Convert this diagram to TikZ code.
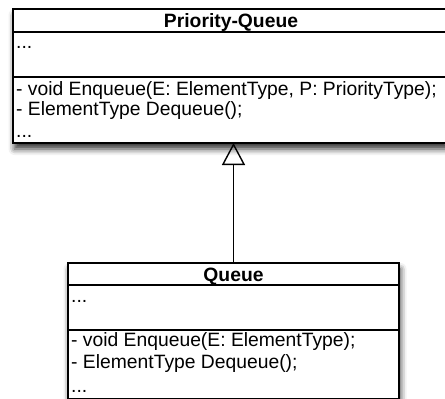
\documentclass[tikz,border=0pt]{standalone}
\usepackage{fontspec}
\setmainfont{Liberation Sans}
\usetikzlibrary{shadows.blur,arrows.meta}
\begin{document}
\begin{tikzpicture}[x=1pt,y=-1pt,
  box/.style={draw=black, line width=1.6pt, fill=white, anchor=north west, inner sep=0pt, outer sep=0pt},
  frame/.style={fill=white, anchor=north west, inner sep=0pt, outer sep=0pt,
     blur shadow={shadow xshift=1.5pt, shadow yshift=-6pt, shadow blur radius=6pt, shadow opacity=80}},
  txt/.style={anchor=base west, inner sep=0pt, font=\fontsize{19.3}{20}\selectfont},
  ttl/.style={anchor=base, inner sep=0pt, font=\fontsize{19.3}{20}\selectfont\bfseries},
  inherit/.style={line width=1.5pt, -{Triangle[open, length=22pt, width=23pt, line width=1.4pt]}}]
\useasboundingbox (0,0) rectangle (445,399);
% Priority-Queue class
\node[frame, minimum width=434pt, minimum height=134pt] (pqframe) at (13,9) {};
\node[box, minimum width=434pt, minimum height=23pt] (pqhead) at (13,9) {};
\node[box, minimum width=434pt, minimum height=45pt] (pqattr) at (13,32) {};
\node[box, minimum width=434pt, minimum height=66pt] (pqmeth) at (13,77) {};
\node[ttl] (pqtitle) at (231,27) {Priority-Queue};
\node[txt] (pqa1) at (16,48) {...};
\node[txt] (pqm1) at (16,95) {- void Enqueue(E: ElementType, P: PriorityType);};
\node[txt] (pqm2) at (16,115) {- ElementType Dequeue();};
\node[txt] (pqm3) at (16,137) {...};
% Queue class
\node[frame, minimum width=331pt, minimum height=136pt] (qframe) at (68,263) {};
\node[box, minimum width=331pt, minimum height=22pt] (qhead) at (68,263) {};
\node[box, minimum width=331pt, minimum height=45pt] (qattr) at (68,285) {};
\node[box, minimum width=331pt, minimum height=69pt] (qmeth) at (68,330) {};
\node[ttl] (qtitle) at (233.5,281) {Queue};
\node[txt] (qa1) at (71,302) {...};
\node[txt] (qm1) at (71,346) {- void Enqueue(E: ElementType);};
\node[txt] (qm2) at (71,368) {- ElementType Dequeue();};
\node[txt] (qm3) at (71,392) {...};
% generalization
\draw[inherit] (qhead.north) -- (qhead.north |- pqmeth.south);
\end{tikzpicture}
\end{document}
